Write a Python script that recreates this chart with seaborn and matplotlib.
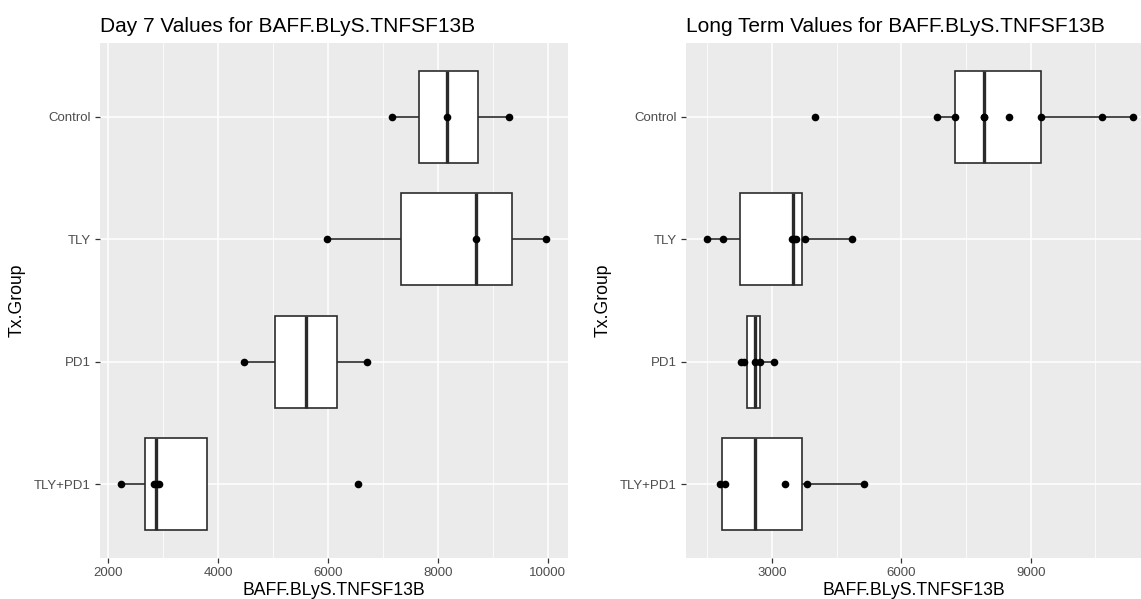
import pandas as pd
import numpy as np
import matplotlib
matplotlib.use("Agg")
import matplotlib.pyplot as plt
from matplotlib.ticker import MultipleLocator
import seaborn as sns

groups = ["Control", "TLY", "PD1", "TLY+PD1"]

# Day 7: box summaries (whisker low, Q1, median, Q3, high/outlier) and the plotted points
day7_box_control = [7170, 7662, 8167, 8733, 9300]
day7_box_tly = [5983, 7338, 8700, 9347, 9980]
day7_box_pd1 = [4474, 5033, 5606, 6172, 6718]
day7_box_combo = [2230, 2667, 2870, 3802, 6550]
day7_pts_control = [7170, 8167, 9300]
day7_pts_tly = [5983, 8700, 9980]
day7_pts_pd1 = [4474, 6718]
day7_pts_combo = [2230, 2830, 2880, 2920, 6550]

# Long term
lt_box_control = [3996, 6826, 7241, 7905, 7925, 8503, 9233, 10644, 11366]
lt_box_tly = [1483, 2255, 3486, 3687, 4847]
lt_box_pd1 = [2290, 2411, 2603, 2719, 3051]
lt_box_combo = [1800, 1831, 2603, 3687, 5125]
lt_pts_control = [3996, 6826, 7241, 7905, 7925, 8503, 9233, 10644, 11366]
lt_pts_tly = [1483, 1868, 3455, 3500, 3555, 3763, 4847]
lt_pts_pd1 = [2280, 2340, 2603, 2719, 3051]
lt_pts_combo = [1790, 1900, 3300, 3802, 5125]


def to_df(lists):
    rows = []
    for g, vals in zip(groups, lists):
        for v in vals:
            rows.append({"Tx.Group": g, "value": v})
    return pd.DataFrame(rows)


sns.set_theme(style="darkgrid", rc={
    "axes.facecolor": "#EBEBEB",
    "grid.color": "white",
    "axes.edgecolor": "#EBEBEB",
})
plt.rcParams["font.family"] = ["Liberation Sans", "DejaVu Sans"]

fig = plt.figure(figsize=(11.41, 5.99), dpi=100)
ax1 = fig.add_axes([100 / 1141, 41 / 599, 468 / 1141, 515 / 599])
ax2 = fig.add_axes([686 / 1141, 41 / 599, 455 / 1141, 515 / 599])

panels = [
    (ax1, [day7_box_control, day7_box_tly, day7_box_pd1, day7_box_combo],
     [day7_pts_control, day7_pts_tly, day7_pts_pd1, day7_pts_combo],
     "Day 7 Values for BAFF.BLyS.TNFSF13B", (1847, 10372), 2000, 1000),
    (ax2, [lt_box_control, lt_box_tly, lt_box_pd1, lt_box_combo],
     [lt_pts_control, lt_pts_tly, lt_pts_pd1, lt_pts_combo],
     "Long Term Values for BAFF.BLyS.TNFSF13B", (1002, 11559), 3000, 1500),
]

for ax, box_lists, pt_lists, title, xlim, major, minor in panels:
    sns.boxplot(data=to_df(box_lists), x="value", y="Tx.Group", order=groups,
                orient="h", width=0.75, color="white", saturation=1,
                linecolor="#2B2B2B", linewidth=1.2, showcaps=False,
                showfliers=False, medianprops={"linewidth": 2.4}, ax=ax)
    sns.stripplot(data=to_df(pt_lists), x="value", y="Tx.Group", order=groups,
                  orient="h", jitter=False, color="black", size=5.5, ax=ax)
    ax.set_xlim(*xlim)
    ax.set_ylim(3.6, -0.6)
    ax.xaxis.set_major_locator(MultipleLocator(major))
    ax.xaxis.set_minor_locator(MultipleLocator(minor))
    ax.grid(which="major", axis="both", color="white", linewidth=1.1)
    ax.grid(which="minor", axis="x", color="white", linewidth=0.55)
    ax.set_axisbelow(True)
    for s in ax.spines.values():
        s.set_visible(False)
    ax.tick_params(which="major", bottom=True, left=True, length=3.5,
                   width=0.9, color="#333333", labelsize=9.5,
                   labelcolor="#4D4D4D", pad=3)
    ax.tick_params(which="minor", bottom=False, left=False, length=0)
    ax.set_title(title, loc="left", fontsize=15, color="black", pad=8)
    ax.set_xlabel("BAFF.BLyS.TNFSF13B", fontsize=12.7, color="black", labelpad=2)
    ax.set_ylabel("Tx.Group", fontsize=12.7, color="black", labelpad=6)

fig.savefig("out.png", dpi=100)
